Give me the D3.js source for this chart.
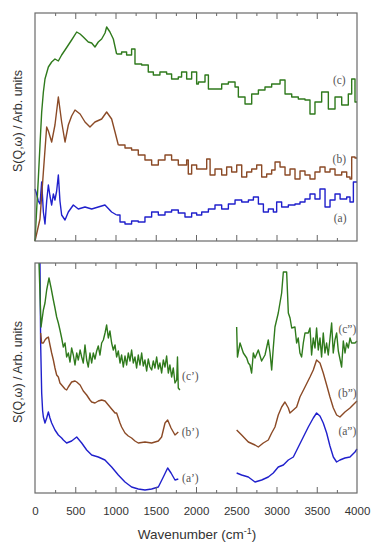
<!DOCTYPE html>
<html><head><meta charset="utf-8">
<script src="https://cdn.jsdelivr.net/npm/d3@7"></script>
<style>body{margin:0;background:#fff}svg{display:block}</style>
</head><body>
<svg id="chart" width="379" height="550"></svg>
<script>
// ---- data (arbitrary units) ----
const topCX = [0,41,62,83,104,124,166,207,248,290,331,373,414,455,518,560,600,662,704,745,786,828,870,890,931,973,1014,1076,1138,1200,1242,1325,1407,1470,1552,1635,1697,1780,1821,1884,1946,2008,2030,2112,2154,2236,2319,2402,2485,2526,2609,2692,2775,2857,2940,3044,3106,3189,3271,3354,3416,3478,3561,3644,3727,3810,3892,3934,3975,4000];
const topCY = [0,62,96,129,149,162,174,179,182,180,186,191,196,201,209,207,204,199,198,194,199,202,208,214,209,202,187,189,186,192,177,176,169,166,169,167,162,164,169,162,169,157,159,166,152,152,157,159,154,144,137,147,151,154,157,161,147,144,142,141,127,139,149,132,144,136,147,162,139,139];
const topBX = [0,62,104,145,166,207,248,290,331,373,414,455,497,560,621,683,745,828,890,952,994,1035,1118,1200,1283,1366,1449,1532,1615,1697,1780,1884,1904,1946,2008,2070,2133,2175,2236,2319,2381,2443,2506,2568,2630,2692,2754,2816,2878,2940,2982,3044,3106,3168,3230,3292,3354,3416,3478,3540,3603,3665,3727,3810,3872,3913,3934,3975,4000];
const topBY = [0,22,69,114,110,99,116,144,119,99,116,125,131,127,119,114,119,122,129,122,109,96,93,91,86,81,76,81,86,81,76,81,67,76,72,72,82,66,72,66,74,69,76,64,69,72,76,64,67,71,79,74,66,72,62,70,66,62,69,74,69,72,66,69,64,62,84,83,83];
const topAX = [0,20,41,62,83,104,124,145,166,186,207,228,248,269,290,310,331,373,414,476,538,621,704,786,869,952,1014,1056,1118,1200,1283,1366,1449,1532,1615,1697,1780,1863,1946,2008,2071,2154,2236,2319,2402,2485,2568,2651,2713,2775,2837,2899,2961,3002,3064,3147,3230,3292,3354,3416,3478,3540,3603,3665,3727,3790,3872,3913,3955,4000];
const topAY = [52,47,40,37,59,29,17,40,56,45,36,47,41,50,66,40,26,21,29,36,32,34,32,34,36,29,26,19,17,20,19,24,29,26,29,31,28,24,28,26,29,32,36,32,37,41,39,41,44,37,29,32,29,39,34,36,37,39,42,47,42,52,34,41,47,42,44,39,59,59];

const botC1X = [50,75,104,124,145,174,200,228,248,269,290,310,331,352,373,393,414,435,455,476,497,518,538,560,580,600,621,642,662,683,704,724,745,766,786,807,828,849,870,890,911,931,952,973,994,1014,1035,1056,1076,1097,1118,1138,1159,1180,1200,1221,1242,1262,1283,1304,1325,1345,1366,1387,1407,1428,1449,1470,1490,1511,1532,1552,1573,1594,1615,1635,1656,1676,1697,1718,1739,1760,1770,1780,1800];
const botC1Y = [230,166,183,190,203,215,205,193,185,176,170,163,155,146,150,136,140,131,145,138,128,140,133,143,136,130,148,133,126,140,130,140,134,142,147,138,150,153,160,168,155,162,150,143,148,136,142,130,138,126,137,128,140,132,143,130,136,125,138,128,140,127,133,122,134,126,123,132,125,136,124,130,120,133,126,137,120,128,116,125,110,113,136,105,103];
const botB1X = [70,83,104,124,145,166,186,207,228,248,269,290,310,331,352,373,393,414,455,497,518,560,600,642,683,704,745,786,828,870,911,952,994,1014,1056,1076,1118,1159,1200,1242,1283,1366,1449,1532,1573,1615,1648,1690,1739,1780];
const botB1Y = [160,150,150,153,155,156,148,140,133,125,118,116,110,108,106,104,103,106,111,112,111,108,102,98,93,91,90,92,93,92,88,84,80,80,70,66,60,57,55,52,50,51,50,52,56,70,73,65,58,61];
const botA1X = [62,70,83,95,104,124,145,166,186,207,248,290,331,352,393,455,518,580,642,704,786,869,952,1035,1118,1200,1283,1366,1449,1532,1594,1648,1690,1739,1780];
const botA1Y = [230,150,100,82,76,70,75,81,75,70,63,58,55,53,50,52,56,50,43,38,36,33,26,18,11,6,4,3,4,6,16,25,20,13,14];
const botC2X = [2505,2515,2547,2588,2630,2650,2670,2691,2712,2733,2774,2815,2857,2898,2920,2940,2960,2981,3022,3064,3085,3126,3147,3168,3189,3229,3250,3270,3291,3312,3333,3354,3395,3416,3436,3457,3478,3498,3519,3540,3560,3581,3602,3622,3643,3685,3705,3726,3747,3768,3809,3830,3851,3871,3892,3913,3933,3975,4000];
const botC2Y = [166,136,150,140,135,130,128,120,140,135,143,132,138,153,140,123,145,166,180,200,221,221,180,175,165,166,150,155,140,136,150,160,160,165,138,155,145,165,143,155,136,160,140,150,138,170,140,153,160,142,126,152,140,150,145,155,150,150,152];
const botB2X = [2505,2567,2650,2733,2774,2836,2898,2940,2981,3022,3064,3105,3147,3167,3209,3250,3291,3354,3416,3457,3498,3540,3581,3623,3664,3706,3747,3788,3850,3913,3975,4000];
const botB2Y = [63,58,51,48,46,50,53,60,66,78,86,91,85,80,83,86,96,106,116,123,133,130,120,108,96,85,78,76,81,85,90,92];
const botA2X = [2505,2567,2650,2733,2816,2898,2960,3022,3085,3147,3209,3271,3333,3395,3457,3498,3540,3581,3623,3664,3706,3747,3788,3850,3913,3975,4000];
const botA2Y = [20,18,16,11,13,16,20,26,28,33,36,46,56,66,75,80,77,70,60,47,36,31,33,35,36,41,44];

const xTickLabels = ["0","500","1000","1500","2000","2500","3000","3500","4000"];
const topLabels = ["(c)","(b)","(a)"];
const botLabels = ["(c\u2019)","(b\u2019)","(a\u2019)","(c\u201D)","(b\u201D)","(a\u201D)"];

// ---- drawing ----
const svg = d3.select("#chart");
const green = "#2f7a1c", brown = "#8b4a26", blue = "#2020cc";
const x = d3.scaleLinear().domain([0,4000]).range([35,357]);
const yTop = d3.scaleLinear().domain([0,228]).range([241,13]);
const yBot = d3.scaleLinear().domain([0,230]).range([493,263]);

function frame(y0, y1){
  const g = svg.append("g");
  const minor = d3.range(250,4000,500), major = d3.range(500,4000,500);
  [[minor,3],[major,6]].forEach(([vals,len])=>{
    g.append("g").attr("transform",`translate(0,${y1})`)
      .call(d3.axisBottom(x).tickValues(vals).tickSize(-len).tickFormat(""))
      .call(a=>a.select(".domain").remove())
      .selectAll("line").attr("stroke","#666");
    g.append("g").attr("transform",`translate(0,${y0})`)
      .call(d3.axisTop(x).tickValues(vals).tickSize(-len).tickFormat(""))
      .call(a=>a.select(".domain").remove())
      .selectAll("line").attr("stroke","#666");
  });
  g.append("rect").attr("x",x(0)).attr("y",y0).attr("width",x(4000)-x(0)).attr("height",y1-y0)
    .attr("fill","none").attr("stroke","#6a6a6a").attr("stroke-width",1.2);
}

function path(data, yS, color, curve){
  svg.append("path").datum(data)
    .attr("fill","none").attr("stroke",color).attr("stroke-width",1.4).attr("stroke-linejoin","round")
    .attr("d", d3.line().x(d=>x(d[0])).y(d=>yS(d[1])).curve(curve));
}
function series(xs, ys, yS, color, curve){
  path(xs.map((v,i)=>[v,ys[i]]), yS, color, curve);
}
// top spectra: smooth below ~1000 cm-1, binned (steps) above
function topSeries(xs, ys, color){
  const data = xs.map((v,i)=>[v,ys[i]]);
  const k = data.findIndex(d=>d[0]>=1000);
  path(data.slice(0,k+1), yTop, color, d3.curveLinear);
  path(data.slice(k), yTop, color, d3.curveStepAfter);
}

topSeries(topAX, topAY, blue);
topSeries(topBX, topBY, brown);
topSeries(topCX, topCY, green);

series(botA1X, botA1Y, yBot, blue, d3.curveLinear);
series(botB1X, botB1Y, yBot, brown, d3.curveLinear);
series(botC1X, botC1Y, yBot, green, d3.curveLinear);
series(botA2X, botA2Y, yBot, blue, d3.curveLinear);
series(botB2X, botB2Y, yBot, brown, d3.curveLinear);
series(botC2X, botC2Y, yBot, green, d3.curveLinear);

frame(13,241);
frame(263,493);

// tick labels
svg.append("g").attr("transform","translate(0,493)")
  .call(d3.axisBottom(x).tickValues(d3.range(0,4001,500)).tickSize(0).tickPadding(14)
    .tickFormat((d,i)=>xTickLabels[i]))
  .call(a=>a.select(".domain").remove())
  .selectAll("text").attr("font-family","'Liberation Sans', Arial, sans-serif").attr("font-size","11.5px").attr("fill","#333");

// axis titles
const xt = svg.append("text").attr("x",197).attr("y",539).attr("text-anchor","middle")
  .attr("font-family","'Liberation Sans', Arial, sans-serif").attr("font-size","13.5px").attr("fill","#333");
xt.append("tspan").text("Wavenumber (cm");
xt.append("tspan").attr("dy",-5).attr("font-size","9px").text("-1");
xt.append("tspan").attr("dy",5).text(")");

[121,372].forEach(cy=>{
  svg.append("text").attr("transform",`translate(22,${cy}) rotate(-90)`).attr("text-anchor","middle")
    .attr("font-family","'Liberation Sans', Arial, sans-serif").attr("font-size","12.5px").attr("fill","#333")
    .text("S(Q,\u03C9) / Arb. units");
});

// curve labels
const lab = (t,px,py)=>svg.append("text").attr("x",px).attr("y",py).attr("text-anchor","middle")
  .attr("font-family","'Liberation Serif','Times New Roman',serif").attr("font-size","11.5px").attr("fill","#555").text(t);
lab(topLabels[0],x(3780),yTop(157));
lab(topLabels[1],x(3780),yTop(78));
lab(topLabels[2],x(3790),yTop(19));
lab(botLabels[0],x(1930),yBot(113));
lab(botLabels[1],x(1930),yBot(57));
lab(botLabels[2],x(1930),yBot(11));
lab(botLabels[3],x(3880),yBot(160));
lab(botLabels[4],x(3880),yBot(96));
lab(botLabels[5],x(3880),yBot(58));
</script>
</body></html>
